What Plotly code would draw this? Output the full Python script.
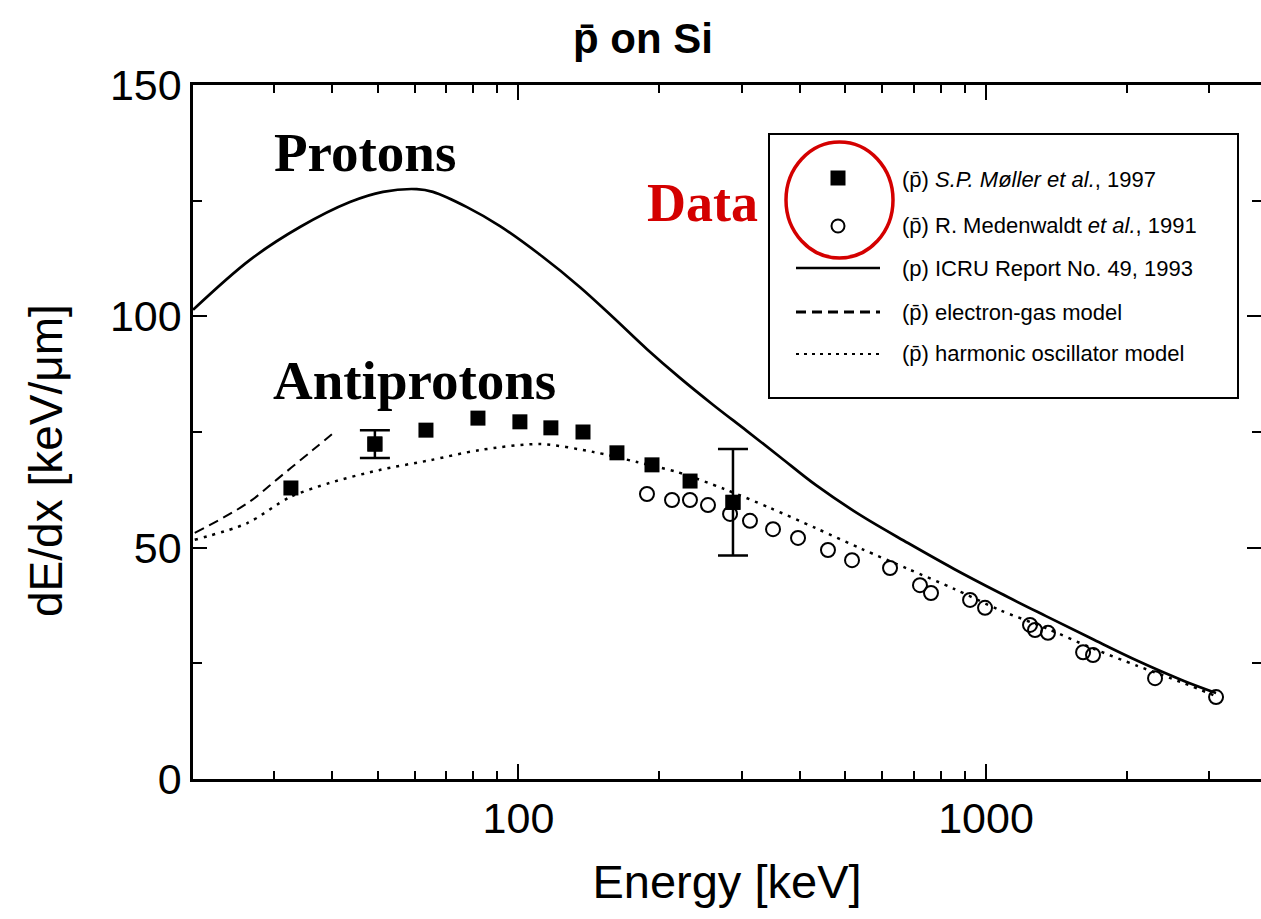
import plotly.graph_objects as go

# ---------------- data ----------------
# S.P. Moller et al., 1997 (antiprotons, filled squares)
moller_E = [32.6, 49.3, 63.4, 81.9, 100.7, 117.3, 137.4, 162.4, 193.0, 232.8, 287.6]
moller_dEdx = [62.9, 72.4, 75.4, 78.0, 77.2, 75.9, 75.0, 70.5, 67.9, 64.4, 59.8]
moller_err = [None, 3.0, None, None, None, None, None, None, None, None, 11.5]

# R. Medenwaldt et al., 1991 (antiprotons, open circles)
med_E = [188.3, 213.0, 232.7, 254.3, 283.5, 312.7, 350.3, 396.2, 459.2, 516.9,
         623.3, 722.4, 762.7, 924.5, 995.2, 1242, 1273, 1357, 1613, 1694, 2299, 3105]
med_dEdx = [61.6, 60.3, 60.3, 59.2, 57.3, 55.8, 54.0, 52.1, 49.5, 47.3,
            45.6, 41.9, 40.2, 38.7, 37.0, 33.3, 32.2, 31.6, 27.4, 26.8, 21.8, 17.7]

# ICRU Report No. 49 (protons, solid)
icru_E = [20.13, 26.65, 34.09, 43.6, 51.3, 60.6, 65.6, 77.6, 91.3, 111.2, 135.4, 159.3,
          188.3, 221.5, 260.6, 308.2, 362.6, 432.9, 543.0, 681.0, 854.4, 1071, 1344, 1685,
          2114, 2651, 3105]
icru_dEdx = [101.4, 112.2, 119.3, 124.7, 126.9, 127.5, 126.9, 123.6, 119.5, 113.3, 106.3, 99.8,
             92.9, 86.7, 80.9, 75.2, 69.6, 63.5, 56.8, 51.0, 45.4, 40.2, 35.2, 30.3,
             25.5, 21.2, 18.6]

# electron-gas model (antiprotons, dashed)
egas_E = [20.3, 26.3, 30.9, 36.3, 40.9]
egas_dEdx = [53.2, 59.6, 65.3, 71.1, 75.4]

# harmonic oscillator model (antiprotons, dotted)
hosc_E = [20.3, 26.3, 32.4, 39.5, 50.5, 64.7, 82.7, 111.2, 144.3, 179.3, 219.4, 275.2,
          345.1, 432.9, 543.0, 681.0, 854.4, 1071, 1344, 1685, 2114, 2651, 3105]
hosc_dEdx = [51.7, 55.3, 60.9, 64.0, 66.8, 68.9, 71.1, 72.4, 70.7, 68.5, 66.3, 62.7,
             58.6, 54.2, 49.7, 45.4, 41.1, 36.5, 32.6, 28.3, 24.4, 20.7, 17.9]

x_major = [100, 1000]
x_major_text = ["100", "1000"]
x_minor = [30, 40, 50, 60, 70, 80, 90, 200, 300, 400, 500, 600, 700, 800, 900, 2000, 3000]

legend_labels = [
    "(p\u0304) <i>S.P. M\u00f8ller et al.</i>, 1997",
    "(p\u0304) R. Medenwaldt <i>et al.</i>, 1991",
    "(p) ICRU Report No. 49, 1993",
    "(p\u0304) electron-gas model",
    "(p\u0304) harmonic oscillator model",
]

# ---------------- layout helpers ----------------
W, H = 1261, 919
L, R, T, B = 193, 0, 85, 140
PW, PH = W - L - R, H - T - B


def px(x):
    return (x - L) / PW


def py(y):
    return (H - B - y) / PH


SANS = "Liberation Sans, Arial, Helvetica, sans-serif"
SERIF = "Liberation Serif, Times New Roman, serif"

fig = go.Figure()

fig.add_trace(go.Scatter(x=icru_E, y=icru_dEdx, mode="lines", line=dict(color="black", width=2.7),
                         line_shape="spline", line_smoothing=1.0, showlegend=False, yaxis="y2"))
fig.add_trace(go.Scatter(x=egas_E, y=egas_dEdx, mode="lines",
                         line=dict(color="black", width=2, dash="10px,6px"), line_shape="spline",
                         showlegend=False))
fig.add_trace(go.Scatter(x=hosc_E, y=hosc_dEdx, mode="lines",
                         line=dict(color="black", width=2.5, dash="3px,6px"), line_shape="spline",
                         line_smoothing=0.8, showlegend=False))
fig.add_trace(go.Scatter(x=med_E, y=med_dEdx, mode="markers",
                         marker=dict(symbol="circle-open", size=14, color="black", line=dict(width=2)),
                         showlegend=False))
fig.add_trace(go.Scatter(x=moller_E, y=moller_dEdx, mode="markers",
                         marker=dict(symbol="square", size=15, color="black"), showlegend=False))
idx = [i for i, e in enumerate(moller_err) if e is not None]
fig.add_trace(go.Scatter(x=[moller_E[i] for i in idx], y=[moller_dEdx[i] for i in idx], mode="markers",
                         marker=dict(symbol="square", size=15, color="black"),
                         error_y=dict(type="data", array=[moller_err[i] for i in idx], visible=True,
                                      color="black", thickness=2.5, width=15),
                         showlegend=False))

shapes = []
annotations = []

# legend box
shapes.append(dict(type="rect", xref="paper", yref="paper", x0=px(769), x1=px(1238), y0=py(398), y1=py(134),
                   line=dict(color="black", width=2), fillcolor="white", layer="above"))
# legend samples
shapes.append(dict(type="rect", xref="paper", yref="paper", x0=px(830.5), x1=px(845.5), y0=py(185.5),
                   y1=py(170.5), line=dict(width=0), fillcolor="black", layer="above"))
shapes.append(dict(type="circle", xref="paper", yref="paper", x0=px(831.5), x1=px(844.5), y0=py(232.5),
                   y1=py(219.5), line=dict(color="black", width=2), fillcolor="white", layer="above"))
shapes.append(dict(type="line", xref="paper", yref="paper", x0=px(796), x1=px(880), y0=py(268), y1=py(268),
                   line=dict(color="black", width=2.5), layer="above"))
shapes.append(dict(type="line", xref="paper", yref="paper", x0=px(796), x1=px(880), y0=py(312), y1=py(312),
                   line=dict(color="black", width=3, dash="10px,6px"), layer="above"))
shapes.append(dict(type="line", xref="paper", yref="paper", x0=px(796), x1=px(880), y0=py(354), y1=py(354),
                   line=dict(color="black", width=2, dash="3px,5px"), layer="above"))
# red highlight ellipse
shapes.append(dict(type="circle", xref="paper", yref="paper", x0=px(786), x1=px(893), y0=py(258), y1=py(142),
                   line=dict(color="#d40000", width=3.5), layer="above"))

for lab, yy in zip(legend_labels, [179, 225, 268, 312, 353]):
    annotations.append(dict(text=lab, xref="paper", yref="paper", x=px(900), y=py(yy), xanchor="left",
                            yanchor="middle", showarrow=False, font=dict(family=SANS, size=22, color="black")))

annotations.append(dict(text="<b>Protons</b>", xref="paper", yref="paper", x=px(365), y=py(152),
                        xanchor="center", yanchor="middle", showarrow=False,
                        font=dict(family=SERIF, size=55, color="black")))
annotations.append(dict(text="<b>Antiprotons</b>", xref="paper", yref="paper", x=px(414), y=py(380),
                        xanchor="center", yanchor="middle", showarrow=False,
                        font=dict(family=SERIF, size=55, color="black")))
annotations.append(dict(text="<b>Data</b>", xref="paper", yref="paper", x=px(702), y=py(203),
                        xanchor="center", yanchor="middle", showarrow=False,
                        font=dict(family=SERIF, size=54, color="#d40000")))
# y-axis title
annotations.append(dict(text="dE/dx [keV/\u03bcm]", xref="paper", yref="paper", x=px(46), y=py(461),
                        xanchor="center", yanchor="middle", textangle=-90, showarrow=False,
                        font=dict(family=SANS, size=46, color="black")))

fig.update_layout(
    width=W, height=H,
    margin=dict(l=L, r=R, t=T, b=B, pad=0),
    paper_bgcolor="white", plot_bgcolor="white",
    title=dict(text="<b>p\u0304 on Si</b>", x=643 / W, xref="container", xanchor="center",
               y=1 - 38 / H, yref="container", yanchor="middle",
               font=dict(family=SANS, size=42, color="black")),
    shapes=shapes, annotations=annotations,
    showlegend=False,
)

fig.update_xaxes(
    type="log", range=[1.3038, 3.5882], showgrid=False, zeroline=False,
    showline=True, linecolor="black", linewidth=2.5, mirror="ticks",
    ticks="inside", ticklen=15, tickwidth=2, tickcolor="black",
    tickmode="array", tickvals=x_major, ticktext=x_major_text,
    tickfont=dict(family=SANS, size=43, color="black"),
    minor=dict(tickmode="array", tickvals=x_minor, ticks="inside", ticklen=8, tickwidth=2, tickcolor="black",
               showgrid=False),
    title=dict(text="Energy [keV]", font=dict(family=SANS, size=47, color="black"), standoff=24),
)
yaxis_common = dict(
    range=[0, 150], showgrid=False, zeroline=False,
    ticks="inside", ticklen=14, tickwidth=2, tickcolor="black",
    tickmode="linear", tick0=0, dtick=50,
    minor=dict(tickmode="linear", tick0=0, dtick=25, ticks="inside", ticklen=9, tickwidth=2, tickcolor="black",
               showgrid=False),
)
fig.update_layout(
    yaxis=dict(**yaxis_common, showline=True, linecolor="black", linewidth=2.5, mirror=False,
               tickfont=dict(family=SANS, size=43, color="black")),
    yaxis2=dict(**yaxis_common, overlaying="y", side="right", anchor="x", showline=False,
                showticklabels=False),
)

fig.write_html("out.html")
